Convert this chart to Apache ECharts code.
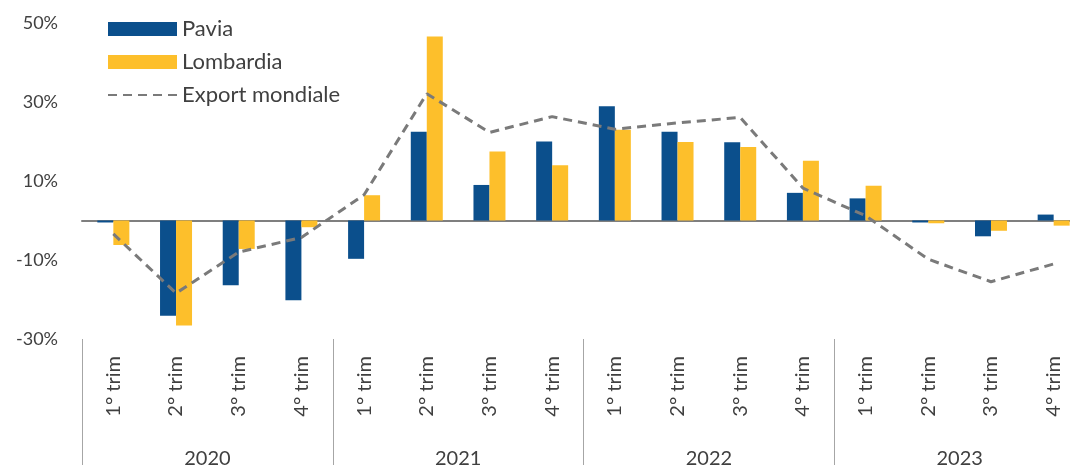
<!DOCTYPE html>
<html>
<head>
<meta charset="utf-8">
<script src="https://cdn.jsdelivr.net/npm/echarts@6/dist/echarts.min.js"></script>
<style>html,body{margin:0;padding:0;background:#fff}#c{width:1070px;height:465px}</style>
</head>
<body>
<div id="c"></div>
<script>
const quarters = ['1° trim','2° trim','3° trim','4° trim','1° trim','2° trim','3° trim','4° trim','1° trim','2° trim','3° trim','4° trim','1° trim','2° trim','3° trim','4° trim'];
const years = ['2020','2021','2022','2023'];
const pavia = [-0.5,-24.1,-16.4,-20.2,-9.7,22.5,9.0,20.0,28.9,22.5,19.8,7.0,5.6,-0.5,-4.0,1.5];
const lombardia = [-6.2,-26.6,-7.2,-1.7,6.4,46.6,17.5,14.0,23.0,19.9,18.6,15.1,8.8,-0.7,-2.6,-1.3];
const exportMondiale = [-3.4,-18.4,-8.0,-4.3,6.5,32.1,22.3,26.3,23.1,24.7,26.1,8.2,1.2,-9.8,-15.5,-11.0];
const yTickLabels = [-30,-10,10,30,50];

const FONT = 'Lato';
const TXT = '#404040';
const chart = echarts.init(document.getElementById('c'), null, {renderer:'canvas'});
chart.setOption({
  animation:false,
  textStyle:{fontFamily:FONT},
  grid:{left:82, right:-15, top:23, bottom:126, containLabel:false, outerBoundsMode:'none'},
  legend:{
    orient:'vertical', left:102, top:13, itemWidth:69, itemHeight:14, itemGap:11,
    textStyle:{fontSize:22, color:TXT, fontFamily:FONT},
    data:[{name:'Pavia', icon:'rect'},{name:'Lombardia', icon:'rect'},{name:'Export mondiale', itemStyle:{opacity:0}}]
  },
  xAxis:[
    {type:'category', data:quarters, axisLine:{onZero:true, lineStyle:{color:'#7f7f7f', width:2}},
     axisTick:{show:false}, axisLabel:{show:false}},
    {type:'category', data:quarters, position:'bottom', axisLine:{show:false, onZero:false},
     axisTick:{show:false},
     axisLabel:{rotate:90, margin:17, fontSize:20, color:TXT, fontFamily:FONT}},
    {type:'category', data:years, position:'bottom', axisLine:{show:false, onZero:false},
     axisTick:{show:true, length:126, lineStyle:{color:'#a6a6a6', width:1}},
     axisLabel:{margin:110, fontSize:20, color:TXT, fontFamily:FONT}}
  ],
  yAxis:{
    type:'value', min:-30, max:50, interval:10,
    splitLine:{show:false}, axisLine:{show:false}, axisTick:{show:false},
    axisLabel:{margin:24, fontSize:18, color:TXT, fontFamily:FONT,
      formatter:v => yTickLabels.includes(v) ? v + '%' : ''}
  },
  series:[
    {name:'Pavia', type:'bar', data:pavia, barWidth:16, barGap:'0%', itemStyle:{color:'#0B4F8C'}},
    {name:'Lombardia', type:'bar', data:lombardia, barWidth:16, barGap:'0%', itemStyle:{color:'#FDBF2B'}},
    {name:'Export mondiale', type:'line', data:exportMondiale, symbol:'none',
     lineStyle:{color:'#7a7a7a', width:3, type:[9,6]}, itemStyle:{color:'#7a7a7a'}}
  ]
});
</script>
</body>
</html>
